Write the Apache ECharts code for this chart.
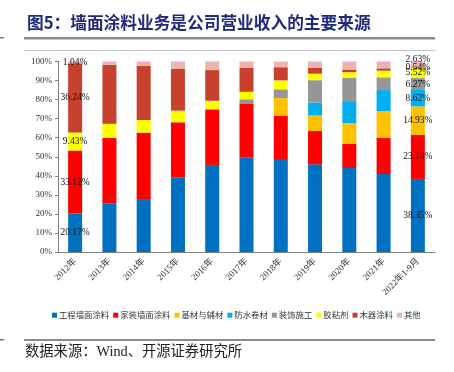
<!DOCTYPE html>
<html><head><meta charset="utf-8">
<script src="https://cdn.jsdelivr.net/npm/echarts@6/dist/echarts.min.js"></script>
<style>html,body{margin:0;padding:0;background:#fff;}#c{width:454px;height:372px;}</style>
</head><body><div id="c"></div>
<script>
const categories = ['2012年','2013年','2014年','2015年','2016年','2017年','2018年','2019年','2020年','2021年','2022年1-9月'];
const engWall   = [20.17, 25.6, 27.8, 39.2, 45.7, 49.7, 48.8, 46.0, 44.1, 40.9, 38.35];
const homeWall  = [33.12, 34.4, 34.8, 28.9, 29.2, 28.0, 22.6, 17.5, 12.8, 19.1, 23.14];
const baseMat   = [0, 0, 0, 0, 0, 0, 9.4, 8.2, 10.8, 14.0, 14.93];
const waterproof= [0, 0, 0, 0, 0, 0, 0, 6.8, 11.5, 11.0, 8.62];
const decoration= [0, 0, 0, 0, 0, 2.5, 4.6, 11.7, 12.3, 6.7, 6.27];
const adhesive  = [9.43, 7.3, 6.7, 6.1, 4.5, 3.9, 4.7, 3.4, 2.9, 3.5, 5.52];
const woodPaint = [36.24, 31.0, 28.5, 21.9, 16.1, 12.5, 6.9, 3.2, 1.4, 1.2, 0.54];
const others    = [1.04, 1.7, 2.2, 3.9, 4.5, 3.4, 3.0, 3.3, 4.2, 3.6, 2.63];
const seriesNames = ['工程墙面涂料','家装墙面涂料','基材与辅材','防水卷材','装饰施工','胶粘剂','木器涂料','其他'];
const seriesData = [engWall, homeWall, baseMat, waterproof, decoration, adhesive, woodPaint, others];
const colors = ['#0070C0','#FF0000','#FFC000','#00B0F0','#969696','#FFFF00','#C8412E','#EDB3AE'];
const yTicks = [0,10,20,30,40,50,60,70,80,90,100];

const serif = 'Liberation Serif, "Times New Roman", "Noto Sans CJK SC", serif';
const cjk = '"Noto Sans CJK SC", sans-serif';
const labeled = [0, categories.length - 1];

const series = seriesNames.map((name, si) => ({
  name, type: 'bar', stack: 'all', barWidth: 14,
  itemStyle: { color: colors[si] },
  data: seriesData[si].map((v, i) => {
    const item = { value: v };
    if (labeled.includes(i) && v > 0) {
      item.label = { show: true, position: 'inside', formatter: v.toFixed(2) + '%',
        color: '#111', fontSize: 9.5, fontFamily: serif };
      if (si === 7 && i === categories.length - 1) item.label.offset = [0, -5];
    }
    return item;
  })
}));

const chart = echarts.init(document.getElementById('c'), null, { renderer: 'canvas' });
chart.setOption({
  animation: false,
  color: colors,
  grid: { left: 58, right: 19, top: 61.5, bottom: 120, containLabel: false },
  legend: {
    data: seriesNames, left: 47, top: 306, icon: 'rect', itemWidth: 5, itemHeight: 5, itemGap: 4,
    textStyle: { fontSize: 8.4, fontFamily: cjk, color: '#333', padding: [0, 0, 0, -3] }
  },
  xAxis: {
    type: 'category', data: categories,
    axisLine: { lineStyle: { color: '#808080' } },
    axisTick: { lineStyle: { color: '#808080' }, length: 4 },
    axisLabel: { rotate: 45, fontSize: 9, fontFamily: serif, color: '#333', margin: 8, interval: 0 }
  },
  yAxis: {
    type: 'value', min: yTicks[0], max: yTicks[yTicks.length - 1], interval: 10,
    splitLine: { show: false },
    axisLine: { show: true, lineStyle: { color: '#808080' } },
    axisTick: { show: true, length: 3, lineStyle: { color: '#808080' } },
    axisLabel: { formatter: '{value}%', fontSize: 9, fontFamily: serif, color: '#333', margin: 6 }
  },
  graphic: [
    { type: 'text', left: 27, top: 14, style: { text: '图5：墙面涂料业务是公司营业收入的主要来源', fill: '#1F2A7C', font: 'bold 16.7px "Noto Sans CJK SC"' } },
    { type: 'rect', shape: { x: 24, y: 37, width: 411, height: 2.5 }, style: { fill: '#8C8C8C' } },
    { type: 'rect', shape: { x: 0, y: 37, width: 4, height: 1.5 }, style: { fill: '#777' } },
    { type: 'rect', shape: { x: 24, y: 50, width: 411, height: 1 }, style: { fill: '#C4C4C4' } },
    { type: 'rect', shape: { x: 24, y: 339, width: 411, height: 2 }, style: { fill: '#8C8C8C' } },
    { type: 'rect', shape: { x: 0, y: 339, width: 4, height: 1.5 }, style: { fill: '#777' } },
    { type: 'text', left: 25, top: 345, style: { text: '数据来源：Wind、开源证券研究所', fill: '#222', font: '14.3px "Liberation Serif", "Noto Sans CJK SC"' } }
  ],
  series
});
</script></body></html>
